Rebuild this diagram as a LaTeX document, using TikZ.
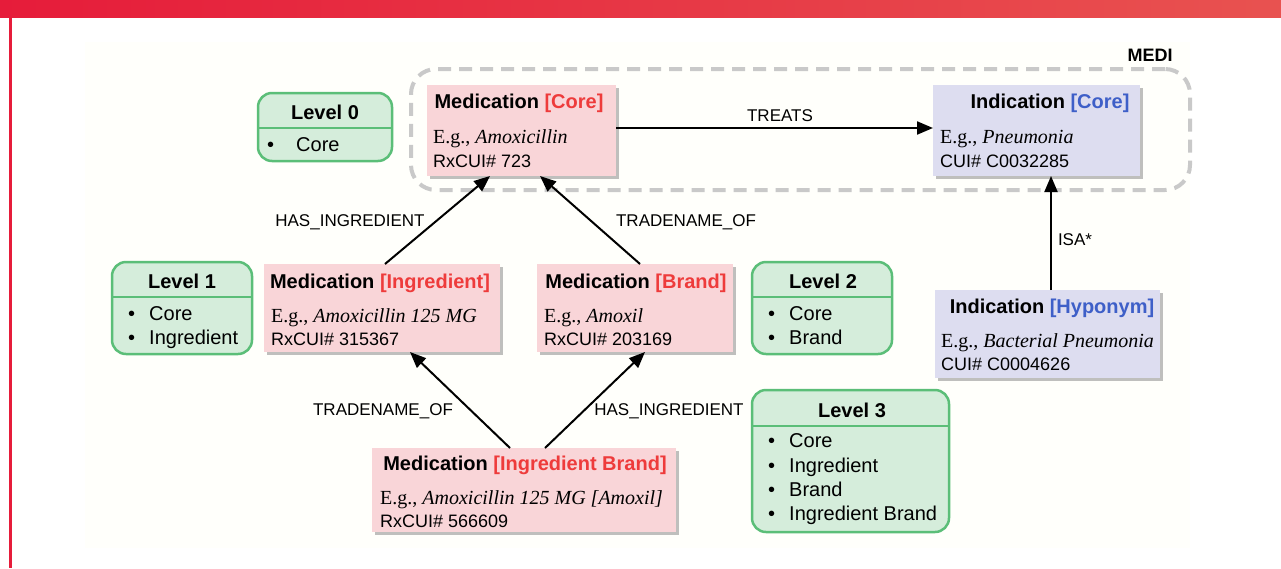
\documentclass[tikz,border=0pt]{standalone}
\usepackage{fontspec}
\setmainfont{Liberation Serif}
\setsansfont{Liberation Sans}
\usetikzlibrary{arrows.meta,shadows,calc}
\definecolor{pinkfill}{HTML}{F9D5D8}
\definecolor{lavfill}{HTML}{DDDDF0}
\definecolor{grnfill}{HTML}{D5EDDB}
\definecolor{grnline}{HTML}{5BBE78}
\definecolor{redtxt}{HTML}{EE3B3B}
\definecolor{bluetxt}{HTML}{3E5FC8}
\definecolor{dashgray}{HTML}{C9C9C9}
\definecolor{barL}{HTML}{E61C3A}
\definecolor{barR}{HTML}{E85250}
\definecolor{panel}{HTML}{FFFFFB}
\tikzset{
 box/.style={rectangle, inner sep=0pt, outer sep=0pt, drop shadow={shadow xshift=3pt, shadow yshift=-3pt, fill=black!50, opacity=0.5}},
 medbox/.style={box, fill=pinkfill},
 indbox/.style={box, fill=lavfill},
 lvlbox/.style={rectangle, rounded corners=14pt, draw=grnline, line width=2.5pt, fill=grnfill, inner sep=0pt},
 sepline/.style={draw=grnline, line width=2.5pt},
 hdr/.style={font=\sffamily\bfseries\fontsize{20}{24}\selectfont, inner sep=0pt, anchor=base},
 eg/.style={font=\rmfamily\fontsize{20}{24}\selectfont, anchor=base west, inner sep=0pt},
 cui/.style={font=\sffamily\fontsize{18}{22}\selectfont, anchor=base west, inner sep=0pt},
 bul/.style={font=\sffamily\fontsize{20}{24}\selectfont, anchor=base west, inner sep=0pt},
 elab/.style={font=\sffamily\fontsize{17}{20}\selectfont, inner sep=0pt},
 rel/.style={draw=black, line width=2pt, -{Triangle[length=16pt,width=13pt]}},
 medibox/.style={draw=dashgray, line width=4pt, dash pattern=on 13pt off 8pt, rounded corners=25pt, inner sep=0pt},
}
\newcommand{\rtag}[1]{\textcolor{redtxt}{#1}}
\newcommand{\btag}[1]{\textcolor{bluetxt}{#1}}
\begin{document}
\begin{tikzpicture}[x=1pt,y=-1pt]
\useasboundingbox (0,0) rectangle (1281,568);
% header bar and frame
\shade[left color=barL, right color=barR] (0,0) rectangle (1281,17);
\draw[barL, line width=3pt] (10.5,17) -- (10.5,568);
\fill[panel] (85,42) rectangle (1190,548);

% MEDI group
\node[medibox, minimum width=779pt, minimum height=121pt] (medi) at (800.5,129.5) {};
\node[font=\sffamily\bfseries\fontsize{18}{22}\selectfont, inner sep=0pt, anchor=base] (medilbl) at (1150,61) {MEDI};

% Medication Core
\node[medbox, minimum width=189pt, minimum height=91pt] (mc) at (521.5,130.5) {};
\node[hdr] (mch) at (519,108) {Medication \rtag{[Core]}};
\node[eg] (mce) at (433,143) {E.g., \textit{Amoxicillin}};
\node[cui] (mcc) at (433,167) {RxCUI\# 723};

% Indication Core
\node[indbox, minimum width=207pt, minimum height=91pt] (ic) at (1036.5,130.5) {};
\node[hdr] (ich) at (1050,108) {Indication \btag{[Core]}};
\node[eg] (ice) at (940,143) {E.g., \textit{Pneumonia}};
\node[cui] (icc) at (940,167) {CUI\# C0032285};

% Medication Ingredient
\node[medbox, minimum width=236pt, minimum height=88pt] (mi) at (382,308) {};
\node[hdr] (mih) at (380,288) {Medication \rtag{[Ingredient]}};
\node[eg] (mie) at (271,322) {E.g., \textit{Amoxicillin 125 MG}};
\node[cui] (mic) at (271,345) {RxCUI\# 315367};

% Medication Brand
\node[medbox, minimum width=196pt, minimum height=88pt] (mb) at (635,308) {};
\node[hdr] (mbh) at (636,288) {Medication \rtag{[Brand]}};
\node[eg] (mbe) at (544,322) {E.g., \textit{Amoxil}};
\node[cui] (mbc) at (544,345) {RxCUI\# 203169};

% Indication Hyponym
\node[indbox, minimum width=225pt, minimum height=88pt] (hy) at (1047.5,334) {};
\node[hdr] (hyh) at (1052,313) {Indication \btag{[Hyponym]}};
\node[eg] (hye) at (941,347) {E.g., \textit{Bacterial Pneumonia}};
\node[cui] (hyc) at (941,370) {CUI\# C0004626};

% Medication Ingredient Brand
\node[medbox, minimum width=304pt, minimum height=84pt] (ib) at (524,490) {};
\node[hdr] (ibh) at (525,470) {Medication \rtag{[Ingredient Brand]}};
\node[eg] (ibe) at (380,504) {E.g., \textit{Amoxicillin 125 MG [Amoxil]}};
\node[cui] (ibc) at (380,527) {RxCUI\# 566609};

% Level 0
\node[lvlbox, minimum width=134pt, minimum height=68pt] (l0) at (325,127) {};
\node[hdr] (l0t) at (325,119) {Level 0};
\draw[sepline] (258,128) -- (392,128);
\node[bul] (l0a) at (267,151) {\textbullet};
\node[bul] (l0b) at (296,151) {Core};

% Level 1
\node[lvlbox, minimum width=140pt, minimum height=92pt] (l1) at (182,308) {};
\node[hdr] (l1t) at (182,288) {Level 1};
\draw[sepline] (112,297) -- (252,297);
\node[bul] (l1a) at (128,320) {\textbullet};
\node[bul] (l1b) at (149,320) {Core};
\node[bul] (l1c) at (128,344) {\textbullet};
\node[bul] (l1d) at (149,344) {Ingredient};

% Level 2
\node[lvlbox, minimum width=140pt, minimum height=92pt] (l2) at (822,308) {};
\node[hdr] (l2t) at (823,288) {Level 2};
\draw[sepline] (752,297) -- (892,297);
\node[bul] (l2a) at (768,320) {\textbullet};
\node[bul] (l2b) at (789,320) {Core};
\node[bul] (l2c) at (768,344) {\textbullet};
\node[bul] (l2d) at (789,344) {Brand};

% Level 3
\node[lvlbox, minimum width=197pt, minimum height=142pt] (l3) at (850.5,461) {};
\node[hdr] (l3t) at (852,417) {Level 3};
\draw[sepline] (752,426) -- (949,426);
\node[bul] (l3a) at (768,447) {\textbullet};
\node[bul] (l3b) at (789,447) {Core};
\node[bul] (l3c) at (768,472) {\textbullet};
\node[bul] (l3d) at (789,472) {Ingredient};
\node[bul] (l3e) at (768,496) {\textbullet};
\node[bul] (l3f) at (789,496) {Brand};
\node[bul] (l3g) at (768,520) {\textbullet};
\node[bul] (l3h) at (789,520) {Ingredient Brand};

% relations
\draw[rel] (mc.east |- 0,128) -- (ic.west |- 0,128);
\node[elab] (treats) at (780,116) {TREATS};
\draw[rel] ([xshift=3.5pt]hy.north) -- ([xshift=14.5pt]ic.south);
\node[elab] (isa) at (1075,240) {ISA*};
\draw[rel] ([xshift=3pt]mi.north) -- ([xshift=-31.5pt]mc.south);
\node[elab] (hasi1) at (350,222) {HAS\_INGREDIENT};
\draw[rel] ([xshift=5pt]mb.north) -- ([xshift=18.5pt]mc.south);
\node[elab] (tno1) at (686,222) {TRADENAME\_OF};
\draw[rel] ([xshift=-14pt]ib.north) -- ([xshift=28pt]mi.south);
\node[elab] (tno2) at (383,411) {TRADENAME\_OF};
\draw[rel] ([xshift=21pt]ib.north) -- ([xshift=10pt]mb.south);
\node[elab] (hasi2) at (669,411) {HAS\_INGREDIENT};
\end{tikzpicture}
\end{document}
